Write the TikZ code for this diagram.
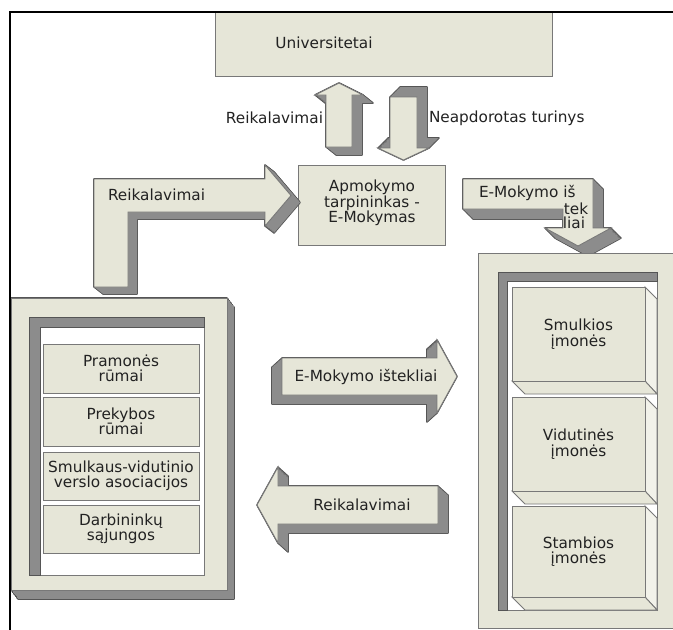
\documentclass[tikz,border=0pt]{standalone}
\usepackage{fontspec}
\setmainfont{DejaVu Sans}
\definecolor{beige}{RGB}{230,230,216}
\definecolor{sidegray}{RGB}{140,140,140}
\definecolor{sideline}{RGB}{85,85,85}
\definecolor{outline}{RGB}{120,120,120}
\definecolor{ink}{RGB}{34,34,34}
\definecolor{paleface}{RGB}{242,242,234}
% extruded block: #1,#2 = depth offset, #3 = outline of the front face
\newcommand{\solidshape}[3]{%
  \foreach \k in {0,...,14}{\path[sideedge,shift={({\k*(#1)/14},{\k*(#2)/14})}] #3 -- cycle;}%
  \foreach \k in {0,...,14}{\path[sidefill,shift={({\k*(#1)/14},{\k*(#2)/14})}] #3 -- cycle;}%
  \path[front] #3 -- cycle;}
% raised company box with a right and a bottom face
\newcommand{\firmbox}[4]{% #1 name, #2 top, #3 bottom, #4 text
  \path[sideface] (645,#2) -- (657,#2+12) -- (657,#3+13) -- (645,#3) -- cycle;
  \path[front] (512,#3) -- (645,#3) -- (657,#3+13) -- (525,#3+13) -- cycle;
  \node[panel,blank,lbl,minimum width=133pt,minimum height={#3-#2}] (#1) at (578.5,{(#2+#3)/2}) {#4};}
\begin{document}
\begin{tikzpicture}[x=1pt,y=-1pt,
  panel/.style={fill=beige,draw=outline,line width=0.9pt},
  front/.style={fill=beige,draw=outline,line width=0.9pt,line join=miter},
  sideface/.style={fill=paleface,draw=outline,line width=0.9pt},
  sidefill/.style={fill=sidegray},
  sideedge/.style={draw=sideline,line width=1.6pt,line join=round},
  well/.style={fill=white,draw=outline,line width=0.9pt},
  wellshade/.style={fill=sidegray,draw=sideline,line width=0.7pt},
  lbl/.style={text=ink,inner sep=0pt,outer sep=0pt,align=center,font=\fontsize{15.3}{15.5}\selectfont},
  blank/.style={inner sep=0pt,outer sep=0pt}]
\useasboundingbox (0,0) rectangle (673,630);
\clip (0,0) rectangle (673,630);

% universities
\node[panel,blank,minimum width=337pt,minimum height=64pt] (uni) at (383.5,44) {};
\node[lbl] (unitext) at (324,43) {Universitetai};

% exchange between universities and the broker
\solidshape{10}{8}{(326,147) -- (326,95) -- (315,95) -- (339,83) -- (363,95) -- (352,95) -- (352,147)}
\solidshape{10}{-10}{(390,97) -- (417,97) -- (417,148) -- (429,148) -- (403.5,160) -- (378,148) -- (390,148)}
\node[lbl,anchor=east] (upreq) at (323,118) {Reikalavimai};
\node[lbl,anchor=west] (raw) at (429,118) {Neapdorotas turinys};

% training broker
\node[panel,blank,minimum width=147pt,minimum height=80pt] (tutor) at (371.5,205) {};
\node[lbl] (tutortext) at (372,203) {Apmokymo\\tarpininkas -\\E-Mokymas};

% requirements from associations to the broker
\solidshape{9}{7}{(94,287) -- (94,179) -- (265,179) -- (265,165) -- (291,195.5) -- (265,226) -- (265,212) -- (128,212) -- (128,287)}
\node[lbl,anchor=west] (lreq) at (108,195) {Reikalavimai};

% resources from the broker to companies
\solidshape{10}{10}{(463,179) -- (593,179) -- (593,228) -- (611,228) -- (578,246) -- (545,228) -- (563,228) -- (563,209) -- (463,209)}
\node[lbl,anchor=west] (res1) at (479,193) {E-Mokymo iš};
\node[lbl] (res2) at (576,209) {tek};
\node[lbl] (res3) at (574,223) {liai};

% associations
\solidshape{7}{9}{(11,298) -- (227,298) -- (227,590) -- (11,590)}
\path[well] (29,317) rectangle (204,575);
\path[wellshade] (29,317) -- (204,317) -- (204,327) -- (40,327) -- (40,575) -- (29,575) -- cycle;
\node[panel,blank,lbl,minimum width=156pt,minimum height=49pt] (pram) at (121,368.5) {Pramonės\\rūmai};
\node[panel,blank,lbl,minimum width=156pt,minimum height=49pt] (prek) at (121,421.5) {Prekybos\\rūmai};
\node[panel,blank,lbl,minimum width=156pt,minimum height=48pt] (svva) at (121,476) {Smulkaus-vidutinio\\verslo asociacijos};
\node[panel,blank,lbl,minimum width=156pt,minimum height=48pt] (darb) at (121,529) {Darbininkų\\sąjungos};

% flows between associations and companies
\solidshape{-10}{9}{(282,358) -- (437,358) -- (437,340) -- (457,376.5) -- (437,413) -- (437,395) -- (282,395)}
\node[lbl] (resmid) at (366,377) {E-Mokymo ištekliai};
\solidshape{10}{9}{(438,486) -- (278,486) -- (278,467) -- (257,505) -- (278,543) -- (278,524) -- (438,524)}
\node[lbl] (reqmid) at (362,505) {Reikalavimai};

% companies
\node[panel,blank,minimum width=200pt,minimum height=375pt] (firms) at (578,440.5) {};
\path[well] (498,272) rectangle (657,610);
\path[wellshade] (498,272) -- (657,272) -- (657,281) -- (507,281) -- (507,610) -- (498,610) -- cycle;
\firmbox{small}{287}{381}{Smulkios\\įmonės}
\firmbox{medium}{397}{491}{Vidutinės\\įmonės}
\firmbox{large}{506}{597}{Stambios\\įmonės}

% page frame
\draw[black,line width=1.5pt] (10,630) -- (10,12) -- (673,12);
\end{tikzpicture}
\end{document}
